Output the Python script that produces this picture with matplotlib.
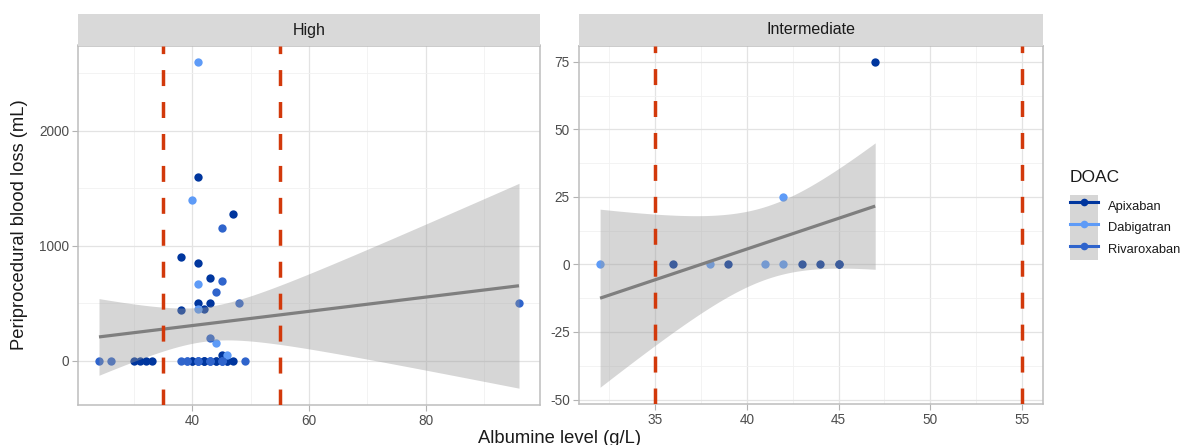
import numpy as np
import matplotlib
matplotlib.use("Agg")
import matplotlib.pyplot as plt
from matplotlib.lines import Line2D
from matplotlib.patches import Patch
from matplotlib.legend_handler import HandlerTuple
from matplotlib.ticker import FixedLocator, NullFormatter
from statistics import NormalDist

plt.rcParams["font.family"] = ["Liberation Sans", "DejaVu Sans"]
plt.rcParams["axes.unicode_minus"] = False

W, H = 1192, 445

DOACS = ["Apixaban", "Dabigatran", "Rivaroxaban"]
DOAC_COLORS = {"Apixaban": "#00369E", "Dabigatran": "#5E9BF7", "Rivaroxaban": "#2F64CC"}
ALBUMIN_CUTOFFS = [35, 55]

# High bleeding-risk procedures: albumin (g/L) and blood loss (mL) per DOAC
# (the zero row holds several patients sharing the same albumin value)
high_apixaban_alb = [41, 47, 38, 41, 43, 41, 43, 38, 42, 45,
                     30, 31, 32, 33, 40, 40, 41, 42, 42, 42, 44, 44, 46, 46, 47]
high_apixaban_loss = [1600, 1275, 900, 850, 720, 500, 500, 440, 450, 50,
                      0, 0, 0, 0, 0, 0, 0, 0, 0, 0, 0, 0, 0, 0, 0]
high_dabigatran_alb = [41, 40, 41, 44, 46, 41]
high_dabigatran_loss = [2600, 1400, 670, 150, 50, 450]
high_rivaroxaban_alb = [45, 45, 44, 48, 96, 43,
                        24, 26, 38, 39, 39, 41, 41, 43, 43, 43, 45, 45, 45, 49]
high_rivaroxaban_loss = [1150, 690, 600, 500, 500, 200,
                         0, 0, 0, 0, 0, 0, 0, 0, 0, 0, 0, 0, 0, 0]

# Intermediate bleeding-risk procedures
inter_apixaban_alb = [36, 39, 43, 44, 45, 45, 47]
inter_apixaban_loss = [0, 0, 0, 0, 0, 0, 75]
inter_dabigatran_alb = [32, 38, 41, 42, 42]
inter_dabigatran_loss = [0, 0, 0, 0, 25]
inter_rivaroxaban_alb = []
inter_rivaroxaban_loss = []

high_xticks = [40, 60, 80]
high_yticks = [0, 1000, 2000]
inter_xticks = [35, 40, 45, 50, 55]
inter_yticks = [-50, -25, 0, 25, 50, 75]


def t_quantile(p, df):
    # Cornish-Fisher expansion of Student's t around the normal quantile
    z = NormalDist().inv_cdf(p)
    g1 = (z**3 + z) / 4
    g2 = (5 * z**5 + 16 * z**3 + 3 * z) / 96
    g3 = (3 * z**7 + 19 * z**5 + 17 * z**3 - 15 * z) / 384
    return z + g1 / df + g2 / df**2 + g3 / df**3


def lm_band(x, y, n_grid=80, level=0.95):
    x = np.asarray(x, float)
    y = np.asarray(y, float)
    n = len(x)
    slope, intercept = np.polyfit(x, y, 1)
    resid = y - (intercept + slope * x)
    s = np.sqrt(resid @ resid / (n - 2))
    sxx = ((x - x.mean()) ** 2).sum()
    grid = np.linspace(x.min(), x.max(), n_grid)
    fit = intercept + slope * grid
    se = s * np.sqrt(1 / n + (grid - x.mean()) ** 2 / sxx)
    t = t_quantile(0.5 + level / 2, n - 2)
    return grid, fit, fit - t * se, fit + t * se


def expand(lo, hi, mult=0.05):
    pad = (hi - lo) * mult
    return lo - pad, hi + pad


def draw_panel(ax, strip, title, groups, xticks, yticks):
    all_x = np.concatenate([np.asarray(g[0], float) for g in groups.values()])
    all_y = np.concatenate([np.asarray(g[1], float) for g in groups.values()])

    for name in DOACS:
        x, y = groups[name]
        if len(x):
            ax.scatter(x, y, s=36, color=DOAC_COLORS[name], linewidths=0, zorder=2)

    grid, fit, lo, hi = lm_band(all_x, all_y)
    ax.fill_between(grid, lo, hi, color="#999999", alpha=0.4, linewidth=0, zorder=3)
    ax.plot(grid, fit, color="#7F7F7F", linewidth=2.3, solid_capstyle="butt", zorder=4)

    for cut in ALBUMIN_CUTOFFS:
        ax.axvline(cut, color="#D2390B", linewidth=2.5, dashes=(4.6, 4.6), zorder=5)

    xs = np.concatenate([all_x, ALBUMIN_CUTOFFS])
    ys = np.concatenate([all_y, lo, hi])
    ax.set_xlim(*expand(xs.min(), xs.max()))
    ax.set_ylim(*expand(ys.min(), ys.max()))

    xstep = xticks[1] - xticks[0]
    ystep = yticks[1] - yticks[0]
    ax.xaxis.set_major_locator(FixedLocator(xticks))
    ax.yaxis.set_major_locator(FixedLocator(yticks))
    ax.xaxis.set_minor_locator(FixedLocator(
        np.arange(xticks[0] - xstep * 2.5, xticks[-1] + xstep * 3, xstep)))
    ax.yaxis.set_minor_locator(FixedLocator(
        np.arange(yticks[0] - ystep * 2.5, yticks[-1] + ystep * 3, ystep)))
    ax.set_yticklabels([str(v) for v in yticks])

    # x tick labels written as annotations under each tick
    ax.xaxis.set_major_formatter(NullFormatter())
    for v in xticks:
        ax.annotate(str(v), xy=(v, 0), xycoords=("data", "axes fraction"),
                    xytext=(0, -6.6), textcoords="offset points", ha="center", va="top",
                    fontsize=9.8, color="#4D4D4D", annotation_clip=False, zorder=10)

    ax.tick_params(axis="both", which="major", length=4, width=0.8, color="#B3B3B3",
                   labelcolor="#4D4D4D", labelsize=9.8, pad=2.5)
    ax.tick_params(axis="both", which="minor", length=0)
    ax.grid(True, which="major", color="#E3E3E3", linewidth=0.9, zorder=0)
    ax.grid(True, which="minor", color="#F1F1F1", linewidth=0.6, zorder=0)
    ax.set_axisbelow(True)
    for sp in ax.spines.values():
        sp.set_color("#BDBDBD")
        sp.set_linewidth(1.1)

    strip.set_facecolor("#D9D9D9")
    strip.set_xticks([])
    strip.set_yticks([])
    for sp in strip.spines.values():
        sp.set_visible(False)
    strip.text(0.5, 0.5, title, ha="center", va="center", fontsize=11.5, color="#1A1A1A",
               transform=strip.transAxes)


def fig_rect(left, top, right, bottom):
    return [left / W, 1 - bottom / H, (right - left) / W, (bottom - top) / H]


fig = plt.figure(figsize=(W / 100, H / 100), dpi=100)

ax_high = fig.add_axes(fig_rect(78, 45.5, 540, 404.5))
strip_high = fig.add_axes(fig_rect(78, 14.5, 540, 45.5))
ax_inter = fig.add_axes(fig_rect(579, 45.5, 1043, 403.5))
strip_inter = fig.add_axes(fig_rect(579, 14.5, 1043, 45.5))

draw_panel(ax_high, strip_high, "High", {
    "Apixaban": (high_apixaban_alb, high_apixaban_loss),
    "Dabigatran": (high_dabigatran_alb, high_dabigatran_loss),
    "Rivaroxaban": (high_rivaroxaban_alb, high_rivaroxaban_loss),
}, high_xticks, high_yticks)

draw_panel(ax_inter, strip_inter, "Intermediate", {
    "Apixaban": (inter_apixaban_alb, inter_apixaban_loss),
    "Dabigatran": (inter_dabigatran_alb, inter_dabigatran_loss),
    "Rivaroxaban": (inter_rivaroxaban_alb, inter_rivaroxaban_loss),
}, inter_xticks, inter_yticks)

fig.text(560 / W, 1 - 443 / H, "Albumine level (g/L)", ha="center", va="baseline",
         fontsize=13.2, color="#1A1A1A")
fig.text(20 / W, 1 - 225 / H, "Periprocedural blood loss (mL)", ha="center", va="center",
         rotation=90, fontsize=13.2, color="#1A1A1A")

# legend: title as its own text, keys touching like ggplot's key column
fig.text(1070 / W, 1 - 177 / H, "DOAC", ha="left", va="center", fontsize=12.5,
         color="#1A1A1A")
handles = [
    (Patch(facecolor="#D6D6D6", edgecolor="none"),
     Line2D([], [], color=DOAC_COLORS[name], linewidth=2.2, marker="o", markersize=5.5,
            markeredgewidth=0))
    for name in DOACS
]
leg = fig.legend(handles, DOACS, loc="upper left", bbox_to_anchor=(1070 / W, 1 - 195 / H),
                 handler_map={tuple: HandlerTuple(ndivide=1)}, frameon=False,
                 borderpad=0, borderaxespad=0, labelspacing=0, handlelength=2.17,
                 handleheight=2.2, handletextpad=0.8, fontsize=9.3)
for txt in leg.get_texts():
    txt.set_color("#1A1A1A")

fig.canvas.draw()
fig.savefig("out.png", dpi=100)
